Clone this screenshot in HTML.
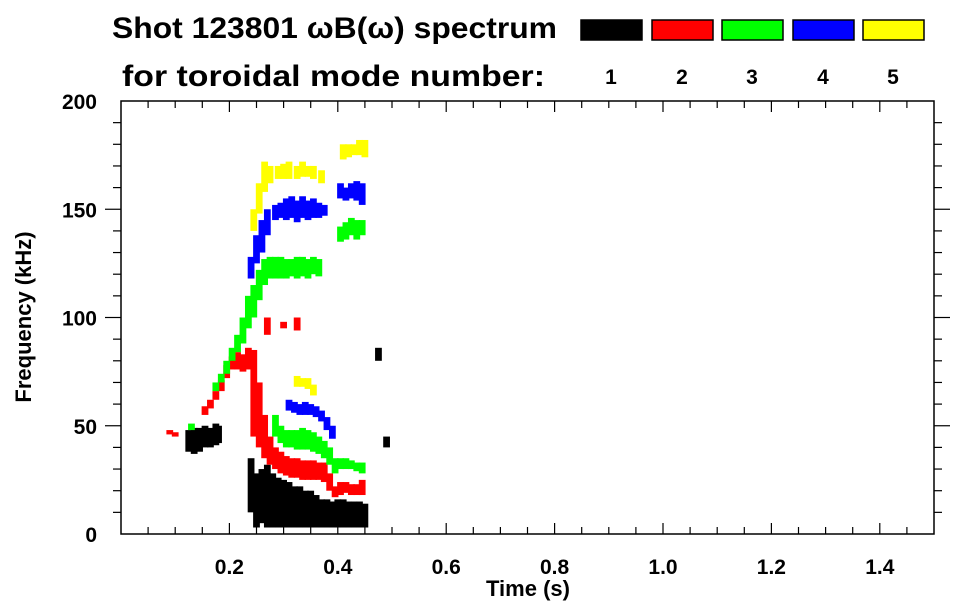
<!DOCTYPE html>
<html><head><meta charset="utf-8"><style>
html,body{margin:0;padding:0;background:#fff}
svg{display:block;font-family:"Liberation Sans",Arial,sans-serif;font-weight:bold}
</style></head><body>
<svg id="chart" width="963" height="615" viewBox="0 0 963 615" xmlns="http://www.w3.org/2000/svg">
<text x="112" y="38" font-size="30" textLength="445" lengthAdjust="spacingAndGlyphs">Shot 123801 ωB(ω) spectrum</text>
<text x="122" y="86" font-size="30" textLength="423" lengthAdjust="spacingAndGlyphs">for toroidal mode number:</text>
<g id="legend"></g>
<g id="marks"></g>
<g id="axes"></g>
<text x="528" y="596" font-size="22" text-anchor="middle">Time (s)</text>
<text transform="translate(31,317) rotate(-90)" font-size="22" text-anchor="middle">Frequency (kHz)</text>
</svg>
<script>
const modeLabels = ["1","2","3","4","5"];
const modeColors = ["#000000","#ff0000","#00ff00","#0000ff","#ffff00"];
const xTicks = [0.2,0.4,0.6,0.8,1.0,1.2,1.4];
const xTickLabels = ["0.2","0.4","0.6","0.8","1.0","1.2","1.4"];
const yTicks = [0,50,100,150,200];
const yTickLabels = ["0","50","100","150","200"];

const n1Time = [.125,.135,.145,.155,.165,.175,.18,.24,.25,.26,.27,.28,.29,.30,.31,.32,.33,.34,.35,.36,.37,.38,.39,.40,.41,.42,.43,.44,.45,.475,.49];
const n1Lo =   [38,37,38,40,40,41,42,10,3,5,3,3,3,3,3,3,3,3,3,3,3,3,3,3,3,3,3,3,3,80,40];
const n1Hi =   [48,49,49,50,49,51,50,35,28,30,32,28,26,25,24,22,22,20,20,18,16,16,15,16,16,15,15,15,14,86,45];

const n2Time = [.09,.10,.155,.165,.175,.185,.195,.205,.215,.225,.235,.245,.255,.265,.275,.285,.295,.305,.315,.325,.335,.345,.355,.365,.375,.385,.395,.405,.415,.425,.435,.445,.27,.30,.325];
const n2Lo =   [46,45,55,58,62,66,72,76,76,75,76,45,40,35,32,30,28,27,26,26,25,25,25,25,24,20,17,18,19,18,18,18,92,95,94];
const n2Hi =   [48,47,59,62,66,71,78,82,84,83,86,85,70,55,45,40,38,36,35,35,34,34,34,33,33,28,22,24,24,23,23,25,100,98,100];

const n3Time = [.13,.175,.185,.195,.205,.215,.225,.235,.245,.255,.265,.275,.285,.295,.305,.315,.325,.335,.345,.355,.365,.285,.295,.305,.315,.325,.335,.345,.355,.365,.375,.385,.395,.405,.415,.425,.435,.445,.405,.415,.425,.435,.445];
const n3Lo =   [48,66,70,74,80,84,88,95,100,108,115,118,118,118,118,119,118,119,118,120,119,45,42,40,40,39,39,39,38,37,35,32,28,30,30,30,29,28,135,136,138,136,138];
const n3Hi =   [51,70,74,80,86,92,100,110,115,122,127,128,128,128,127,127,128,128,127,128,127,55,50,48,48,48,49,48,47,45,43,40,35,35,35,34,33,33,142,144,146,145,145];

const n4Time = [.24,.25,.26,.27,.285,.295,.305,.315,.325,.335,.345,.355,.365,.375,.31,.32,.33,.34,.35,.36,.37,.38,.39,.405,.415,.425,.435,.445];
const n4Lo =   [118,125,130,138,145,146,145,146,144,146,145,146,146,147,57,56,55,55,55,54,52,48,44,155,154,155,154,152];
const n4Hi =   [128,138,145,150,152,153,155,156,154,156,154,155,153,152,62,61,60,61,60,59,57,54,50,162,160,162,163,162];

const n5Time = [.245,.255,.265,.275,.29,.30,.31,.325,.335,.345,.355,.37,.325,.335,.345,.355,.41,.42,.43,.44,.45];
const n5Lo =   [140,148,158,162,164,164,164,164,165,165,164,162,68,68,67,64,173,174,175,175,174];
const n5Hi =   [150,162,172,170,170,171,172,170,172,170,170,168,73,72,72,69,180,180,180,182,182];

const NS="http://www.w3.org/2000/svg";
const X0=121, X1=934, Y0=534, Y1=101, XMAX=1.5, YMAX=200;
function xs(t){return X0+(X1-X0)*t/XMAX;}
function ys(f){return Y0-(Y0-Y1)*f/YMAX;}
function mk(tag,attrs,parent){const e=document.createElementNS(NS,tag);for(const k in attrs)e.setAttribute(k,attrs[k]);parent.appendChild(e);return e;}

const legend=document.getElementById('legend');
const boxX=[581,652,722,793,863];
modeLabels.forEach((lab,i)=>{
  const r=mk('rect',{x:boxX[i],y:20,width:61,height:20,fill:modeColors[i],stroke:'#000','stroke-width':1.5},legend);
  
  
  const t=mk('text',{x:boxX[i]+30,y:84,'font-size':21,'text-anchor':'middle'},legend);
  t.textContent=lab;
  
  
});

const marks=document.getElementById('marks');
const series=[[n1Time,n1Lo,n1Hi],[n2Time,n2Lo,n2Hi],[n3Time,n3Lo,n3Hi],[n4Time,n4Lo,n4Hi],[n5Time,n5Lo,n5Hi]];
series.forEach((s,m)=>{
  const [T,L,H]=s;
  for(let i=0;i<T.length;i++){
    const w=xs(0.0125)-xs(0), x=xs(T[i])-w/2;
    const r=mk('rect',{x:x,y:ys(H[i]),width:w,height:Math.max(1,ys(L[i])-ys(H[i])),fill:modeColors[m]},marks);
    
    
  }
});

const axes=document.getElementById('axes');
const frame=mk('rect',{x:X0,y:Y1,width:X1-X0,height:Y0-Y1,fill:'none',stroke:'#000','stroke-width':1.5},axes);


for(let t=0.05;t<XMAX-0.001;t+=0.05){
  const x=xs(t); const major=Math.abs(t/0.2-Math.round(t/0.2))<1e-6; const len=major?11:7;
  mk('line',{x1:x,y1:Y0,x2:x,y2:Y0-len,stroke:'#000','stroke-width':1.2},axes);
  mk('line',{x1:x,y1:Y1,x2:x,y2:Y1+len,stroke:'#000','stroke-width':1.2},axes);
}
for(let f=10;f<YMAX;f+=10){
  const y=ys(f); const major=f%50===0; const len=major?16:8;
  mk('line',{x1:X0,y1:y,x2:X0-len,y2:y,stroke:'#000','stroke-width':1.2},axes);
  mk('line',{x1:X1,y1:y,x2:X1+len,y2:y,stroke:'#000','stroke-width':1.2},axes);
}
xTicks.forEach((v,i)=>{
  const t=mk('text',{x:xs(v),y:574,'font-size':21,'text-anchor':'middle'},axes);
  t.textContent=xTickLabels[i];
  
  
});
yTicks.forEach((v,i)=>{
  const t=mk('text',{x:97,y:ys(v)+8,'font-size':21,'text-anchor':'end'},axes);
  t.textContent=yTickLabels[i];
  
  
});
</script>
</body></html>
